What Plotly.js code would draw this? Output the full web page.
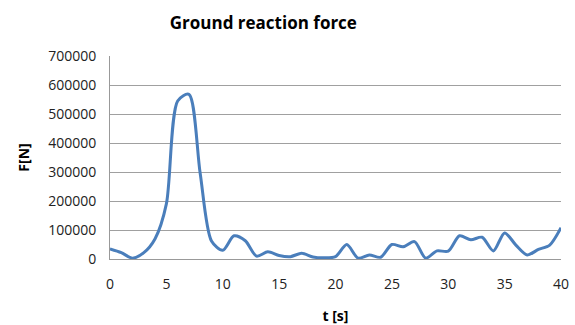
<!DOCTYPE html>
<html>
<head>
<meta charset="utf-8">
<script src="https://cdn.plot.ly/plotly-3.0.1.min.js"></script>
<style>html,body{margin:0;padding:0;background:#fff;}#chart{width:575px;height:325px;}</style>
</head>
<body>
<div id="chart"></div>
<script>
const timeS = [0,1,2,3,4,5,6,7,8,9,10,11,12,13,14,15,16,17,18,19,20,21,22,23,24,25,26,27,28,29,30,31,32,33,34,35,36,37,38,39,40];
const forceN = [35000,22000,3000,22000,70000,190000,545000,568000,295000,62000,30000,80000,63000,10000,25000,12000,8000,20000,7000,4000,8000,50000,3000,14000,6000,50000,42000,60000,3000,28000,27000,80000,66000,75000,28000,90000,48000,14000,33000,48000,108000];
const yTicks = [0,100000,200000,300000,400000,500000,600000,700000];
const xTicks = [0,5,10,15,20,25,30,35,40];

const font = "Open Sans, Liberation Sans, sans-serif";
Plotly.newPlot('chart', [{
  x: timeS, y: forceN, type: 'scatter', mode: 'lines',
  line: {color: '#4a7ebb', width: 3, shape: 'spline', smoothing: 0.8},
  hoverinfo: 'skip'
}], {
  width: 575, height: 325,
  margin: {l: 110, r: 14, t: 56, b: 66},
  paper_bgcolor: '#fff', plot_bgcolor: '#fff',
  showlegend: false,
  title: {text: '<b>Ground reaction force</b>', x: 0.458, xanchor: 'center', y: 0.93, yanchor: 'middle',
          font: {family: font, size: 17, color: '#000'}},
  xaxis: {range: [0, 40], tickvals: xTicks, ticktext: xTicks.map(String), showgrid: false,
          showline: true, linecolor: '#999', linewidth: 1, zeroline: false,
          ticks: '', ticklabelstandoff: 12, tickfont: {family: font, size: 14, color: '#222'},
          title: {text: '<b>t [s]</b>', font: {family: font, size: 14, color: '#000'}, standoff: 20}},
  yaxis: {range: [0, 700000], tickvals: yTicks, ticktext: yTicks.map(String), showgrid: true,
          gridcolor: '#a0a0a0', gridwidth: 1, showline: true, linecolor: '#999', linewidth: 1,
          zeroline: false, ticks: '', ticklabelstandoff: 10, tickfont: {family: font, size: 14, color: '#222'},
          title: {text: '<b>F[N]</b>', font: {family: font, size: 14, color: '#000'}, standoff: 15}}
}, {staticPlot: true});
</script>
</body>
</html>
